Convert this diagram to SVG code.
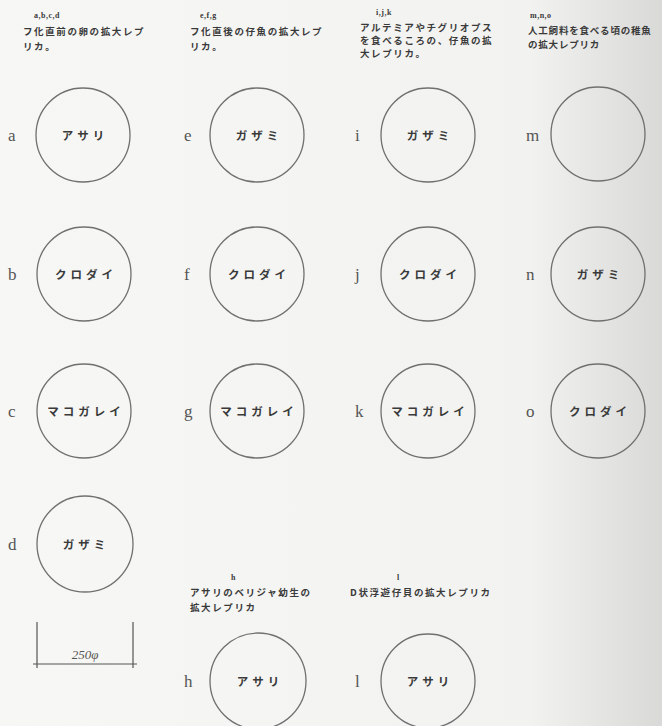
<svg xmlns="http://www.w3.org/2000/svg" width="662" height="726" viewBox="0 0 662 726">
<defs>
<linearGradient id="bg" x1="0" y1="0" x2="1" y2="0">
<stop offset="0" stop-color="#f7f7f5"/>
<stop offset="0.8" stop-color="#f2f2f0"/>
<stop offset="1" stop-color="#d9d9d7"/>
</linearGradient>
<style>
.c{fill:none;stroke:#707070;stroke-width:1.3}
.t{font-family:"Noto Sans CJK JP","Noto Sans",sans-serif;font-weight:bold;font-size:11.5px;fill:#3a3a3a;letter-spacing:4px;text-anchor:middle}
.h{font-family:"Noto Sans CJK JP","Noto Sans",sans-serif;font-weight:bold;font-size:9.5px;fill:#3a3a3a;letter-spacing:1.6px}
.s{font-family:"Liberation Serif",serif;font-weight:bold;font-size:8px;fill:#3a3a3a;letter-spacing:0.5px}
.l{font-family:"Liberation Serif",serif;font-size:17px;fill:#555}
.d{stroke:#555;stroke-width:1.2;fill:none}
</style>
</defs>
<rect width="662" height="726" fill="url(#bg)"/>

<g id="headers">
<text class="s" x="34" y="18">a,b,c,d</text>
<text class="h" x="23" y="35">フ化直前の卵の拡大レプ</text>
<text class="h" x="23" y="50">リカ。</text>

<text class="s" x="200" y="18">e,f,g</text>
<text class="h" x="190" y="35">フ化直後の仔魚の拡大レプ</text>
<text class="h" x="190" y="50">リカ。</text>

<text class="s" x="376" y="15">i,j,k</text>
<text class="h" x="360" y="31">アルテミアやチグリオプス</text>
<text class="h" x="360" y="44">を食べるころの、仔魚の拡</text>
<text class="h" x="360" y="57">大レプリカ。</text>

<text class="s" x="530" y="18">m,n,o</text>
<text class="h" x="528" y="34" style="letter-spacing:0.8px">人工飼料を食べる頃の稚魚</text>
<text class="h" x="528" y="48" style="letter-spacing:0.8px">の拡大レプリカ</text>

<text class="s" x="231" y="580">h</text>
<text class="h" x="190" y="596">アサリのベリジャ幼生の</text>
<text class="h" x="190" y="611">拡大レプリカ</text>

<text class="s" x="397" y="580">l</text>
<text class="h" x="350" y="596">D状浮遊仔貝の拡大レプリカ</text>
</g>

<g id="node-a"><text class="l" x="8" y="141">a</text><circle class="c" cx="83" cy="135" r="47"/><text class="t" x="85" y="140">アサリ</text></g>
<g id="node-b"><text class="l" x="8" y="280">b</text><circle class="c" cx="84" cy="274" r="47"/><text class="t" x="86" y="279">クロダイ</text></g>
<g id="node-c"><text class="l" x="8" y="417">c</text><circle class="c" cx="84" cy="411" r="47"/><text class="t" x="86" y="416">マコガレイ</text></g>
<g id="node-d"><text class="l" x="8" y="550">d</text><circle class="c" cx="85" cy="544" r="48"/><text class="t" x="86" y="549">ガザミ</text></g>

<g id="node-e"><text class="l" x="184" y="141">e</text><circle class="c" cx="257" cy="135" r="47"/><text class="t" x="259" y="140">ガザミ</text></g>
<g id="node-f"><text class="l" x="184" y="280">f</text><circle class="c" cx="257" cy="274" r="47"/><text class="t" x="259" y="279">クロダイ</text></g>
<g id="node-g"><text class="l" x="184" y="417">g</text><circle class="c" cx="257" cy="411" r="47"/><text class="t" x="259" y="416">マコガレイ</text></g>
<g id="node-h"><text class="l" x="184" y="687">h</text><circle class="c" cx="258" cy="681" r="48"/><text class="t" x="260" y="686">アサリ</text></g>

<g id="node-i"><text class="l" x="355" y="141">i</text><circle class="c" cx="428" cy="135" r="47"/><text class="t" x="430" y="140">ガザミ</text></g>
<g id="node-j"><text class="l" x="355" y="280">j</text><circle class="c" cx="428" cy="274" r="47"/><text class="t" x="430" y="279">クロダイ</text></g>
<g id="node-k"><text class="l" x="355" y="417">k</text><circle class="c" cx="428" cy="411" r="47"/><text class="t" x="430" y="416">マコガレイ</text></g>
<g id="node-l"><text class="l" x="355" y="687">l</text><circle class="c" cx="428" cy="681" r="47"/><text class="t" x="430" y="686">アサリ</text></g>

<g id="node-m"><text class="l" x="526" y="141">m</text><circle class="c" cx="598" cy="134" r="47"/></g>
<g id="node-n"><text class="l" x="526" y="280">n</text><circle class="c" cx="598" cy="274" r="47"/><text class="t" x="600" y="279">ガザミ</text></g>
<g id="node-o"><text class="l" x="526" y="417">o</text><circle class="c" cx="598" cy="411" r="47"/><text class="t" x="600" y="416">クロダイ</text></g>

<g id="connectors">
<path class="d" d="M37 622 V668 M133 622 V668 M33 664 H137"/>
<text x="85" y="659" text-anchor="middle" style="font-family:'Liberation Serif',serif;font-style:italic;font-size:13px;fill:#555">250φ</text>
</g>
</svg>
